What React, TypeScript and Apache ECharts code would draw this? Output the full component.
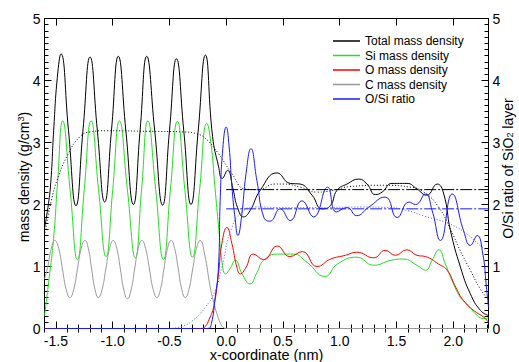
import React, { useEffect, useRef } from "react";
import * as echarts from "echarts";

const FONT = "'Liberation Sans', Arial, Helvetica, sans-serif";

// Axis tick positions (nm)
const majorX = [-1.5, -1.0, -0.5, 0.0, 0.5, 1.0, 1.5, 2.0];
const minorX: number[] = [];
for (let i = -16; i <= 23; i++) if (i % 5 !== 0) minorX.push(i / 10);

const xRange = [-1.6, 2.31];

// Series: [x (nm), value]
const totalDensity: [number, number][] = [
  [-1.6, 1.62], [-1.57, 1.95], [-1.545, 2.35], [-1.519, 3.2], [-1.487, 4.05], [-1.455, 4.43],
  [-1.389, 3.2], [-1.323, 1.98], [-1.261, 3.2], [-1.199, 4.38], [-1.135, 3.2], [-1.07, 2.04],
  [-1.01, 3.2], [-0.95, 4.39], [-0.884, 3.2], [-0.817, 2.0], [-0.758, 3.2], [-0.7, 4.39],
  [-0.63, 3.2], [-0.56, 1.99], [-0.499, 3.2], [-0.438, 4.35], [-0.374, 3.2], [-0.31, 2.0],
  [-0.246, 3.2], [-0.183, 4.41], [-0.12, 3.1], [-0.068, 2.62], [-0.035, 2.42], [0.012, 2.55],
  [0.06, 2.25], [0.1, 1.95], [0.153, 1.8], [0.21, 1.9], [0.3, 2.23], [0.447, 2.51],
  [0.564, 2.34], [0.65, 2.33], [0.756, 2.15], [0.844, 1.93], [0.917, 1.98], [0.976, 2.23],
  [1.064, 2.33], [1.167, 2.41], [1.24, 2.33], [1.314, 2.16], [1.373, 2.2], [1.46, 2.34],
  [1.593, 2.34], [1.68, 2.25], [1.765, 2.15], [1.858, 2.33], [1.916, 2.17], [1.975, 1.58],
  [2.063, 0.99], [2.15, 0.56], [2.24, 0.29], [2.31, 0.21],
];

const siDensity: [number, number][] = [
  [-1.6, 0.2], [-1.56, 0.8], [-1.52, 1.45], [-1.485, 2.35], [-1.44, 3.35], [-1.375, 2.24],
  [-1.31, 1.11], [-1.25, 2.24], [-1.19, 3.35], [-1.124, 2.24], [-1.058, 1.16], [-0.999, 2.24],
  [-0.94, 3.35], [-0.87, 2.24], [-0.8, 1.14], [-0.745, 2.24], [-0.69, 3.35], [-0.621, 2.24],
  [-0.553, 1.11], [-0.491, 2.24], [-0.43, 3.34], [-0.364, 2.24], [-0.297, 1.15], [-0.234, 2.24],
  [-0.17, 3.31], [-0.135, 3.0], [-0.1, 2.3], [-0.065, 1.6], [-0.035, 1.05], [-0.005, 0.88],
  [0.035, 0.97], [0.08, 1.1], [0.14, 0.88], [0.21, 0.72], [0.27, 0.9], [0.33, 1.1],
  [0.45, 1.2], [0.59, 1.2], [0.71, 1.07], [0.87, 0.84], [0.98, 1.04], [1.15, 1.15],
  [1.3, 1.02], [1.45, 1.1], [1.56, 1.12], [1.68, 1.02], [1.755, 0.94], [1.814, 1.1],
  [1.872, 1.27], [1.93, 1.04], [1.99, 0.77], [2.063, 0.5], [2.12, 0.4], [2.21, 0.21],
  [2.27, 0.16], [2.31, 0.17],
];

const oDensity: [number, number][] = [
  [-1.6, 0], [-0.3, 0], [-0.22, 0], [-0.185, 0.03], [-0.15, 0.15], [-0.11, 0.35],
  [-0.068, 0.88], [-0.038, 1.37], [0.006, 1.63], [0.05, 1.37], [0.094, 0.99], [0.125, 0.88],
  [0.17, 0.97], [0.24, 1.2], [0.33, 1.11], [0.45, 1.33], [0.56, 1.16], [0.67, 1.24],
  [0.8, 1.0], [0.92, 1.12], [1.05, 1.18], [1.15, 1.23], [1.3, 1.14], [1.4, 1.26],
  [1.49, 1.18], [1.59, 1.27], [1.68, 1.18], [1.755, 1.16], [1.87, 1.04], [1.946, 0.94],
  [2.02, 0.67], [2.09, 0.45], [2.18, 0.29], [2.27, 0.18], [2.31, 0.1],
];

const cDensity: [number, number][] = [
  [-1.6, 0.8], [-1.572, 0.99], [-1.54, 1.29], [-1.508, 1.42], [-1.475, 1.29], [-1.442, 0.96],
  [-1.409, 0.63], [-1.376, 0.5], [-1.343, 0.63], [-1.31, 0.96], [-1.277, 1.29], [-1.243, 1.42],
  [-1.214, 1.29], [-1.185, 0.96], [-1.155, 0.63], [-1.126, 0.5], [-1.093, 0.63], [-1.06, 0.96],
  [-1.027, 1.29], [-0.994, 1.42], [-0.963, 1.29], [-0.932, 0.96], [-0.901, 0.62], [-0.87, 0.48],
  [-0.838, 0.62], [-0.806, 0.96], [-0.775, 1.29], [-0.743, 1.42], [-0.71, 1.29], [-0.676, 0.96],
  [-0.643, 0.63], [-0.61, 0.5], [-0.579, 0.63], [-0.548, 0.96], [-0.517, 1.29], [-0.485, 1.42],
  [-0.454, 1.29], [-0.422, 0.96], [-0.391, 0.63], [-0.36, 0.5], [-0.328, 0.63], [-0.295, 0.96],
  [-0.262, 1.29], [-0.229, 1.42], [-0.19, 1.2], [-0.141, 0.67], [-0.11, 0.42], [-0.082, 0.24],
  [-0.05, 0.08], [-0.02, 0.01], [0.0, 0], [2.31, 0],
];

const oSiRatio: [number, number][] = [
  [-1.6, 0], [-0.3, 0], [-0.16, 0], [-0.13, 0.08], [-0.097, 0.5], [-0.068, 0.99],
  [-0.053, 2.06], [-0.03, 2.9], [0.0, 3.25], [0.025, 2.95], [0.05, 2.3], [0.08, 1.75],
  [0.103, 1.5], [0.135, 1.8], [0.175, 2.5], [0.218, 2.9], [0.27, 2.39], [0.33, 1.8],
  [0.385, 1.73], [0.476, 1.93], [0.564, 1.74], [0.667, 2.06], [0.77, 1.8], [0.893, 2.28],
  [0.97, 1.88], [1.064, 1.95], [1.15, 1.82], [1.25, 1.95], [1.4, 2.12], [1.505, 1.79],
  [1.61, 2.04], [1.667, 2.0], [1.755, 2.17], [1.814, 1.9], [1.887, 1.42], [1.99, 2.17],
  [2.09, 1.58], [2.15, 1.34], [2.21, 1.5], [2.26, 1.2], [2.29, 0.7], [2.31, 0.34],
];

const totalSmoothed: [number, number][] = [
  [-1.6, 1.5], [-1.57, 1.8], [-1.54, 2.06], [-1.49, 2.39], [-1.39, 2.82], [-1.29, 3.09],
  [-1.2, 3.17], [-1.05, 3.19], [-0.67, 3.18], [-0.36, 3.17], [-0.26, 3.14], [-0.185, 3.07],
  [-0.068, 2.82], [0.05, 2.5], [0.168, 2.25], [0.285, 2.24], [0.43, 2.33], [0.505, 2.33],
  [0.65, 2.28], [0.8, 2.2], [0.946, 2.23], [1.09, 2.29], [1.387, 2.31], [1.62, 2.28],
  [1.74, 2.2], [1.87, 1.96], [1.975, 1.6], [2.06, 1.26], [2.15, 0.94], [2.24, 0.63],
  [2.31, 0.47],
];

const ratioSmoothed: [number, number][] = [
  [-0.5, 0], [-0.4, 0.03], [-0.3, 0.12], [-0.185, 0.34], [-0.097, 0.61],
  [-0.038, 0.99], [0.05, 1.63], [0.153, 1.9], [0.256, 1.96], [0.5, 1.95], [0.8, 1.95],
  [1.2, 1.96], [1.45, 1.95], [1.6, 1.9], [1.75, 1.81], [1.95, 1.7], [2.1, 1.55],
  [2.24, 1.33], [2.31, 1.23],
];

const layerStart = 0.0;
const layerEnd = 2.31;
const totalLayerMean = 2.24;
const ratioLayerMean = 1.93;

const legendNames = [
  "Total mass density",
  "Si mass density",
  "O mass density",
  "C mass density",
  "O/Si ratio",
];

const COLORS = {
  total: "#000000",
  si: "#22e022",
  o: "#ff0000",
  c: "#999999",
  ratio: "#1a1aff",
  ratioDot: "#4a5cff",
};

function lineSeries(name: string, data: [number, number][], color: string, extra: any = {}) {
  return {
    type: "line",
    name,
    data,
    smooth: 0.5,
    symbol: "none",
    showSymbol: false,
    lineStyle: { color, width: 1 },
    itemStyle: { color },
    xAxisIndex: 0,
    yAxisIndex: 0,
    silent: true,
    ...extra,
  };
}

export default function App() {
  const ref = useRef<HTMLDivElement>(null);

  useEffect(() => {
    if (!ref.current) return;
    const chart = echarts.init(ref.current, null, { renderer: "svg" });

    const xBase: any = {
      type: "value",
      min: xRange[0],
      max: xRange[1],
      offset: 0,
      splitLine: { show: false },
      axisLine: { show: true, onZero: false, lineStyle: { color: "#000", width: 1 } },
    };
    const tickStyle = { color: "#000", width: 1 };

    const yBase: any = {
      type: "value",
      min: 0,
      max: 5,
      interval: 1,
      splitLine: { show: false },
      axisLine: { show: true, onZero: false, lineStyle: { color: "#000", width: 1 } },
      axisTick: { show: true, inside: true, length: 7, lineStyle: tickStyle },
      minorTick: { show: true, splitNumber: 10, length: 4, lineStyle: tickStyle },
      axisLabel: { show: true, fontSize: 14, color: "#000", fontFamily: FONT, margin: 4 },
      nameLocation: "middle",
      nameRotate: 90,
      nameMoveOverlap: false,
    };

    const rich = {
      sup: { fontSize: 9, color: "#000", fontFamily: FONT, verticalAlign: "top" },
      sub: { fontSize: 9, color: "#000", fontFamily: FONT, verticalAlign: "bottom" },
    };

    const option: any = {
      animation: false,
      backgroundColor: "#fff",
      grid: { left: 44.5, right: 30.5, top: 18.5, bottom: 33.5, outerBoundsMode: "none", containLabel: false },
      legend: {
        data: legendNames,
        orient: "vertical",
        left: 333,
        top: 35,
        padding: 0,
        icon: "rect",
        itemWidth: 27,
        itemHeight: 1.5,
        itemGap: 2.5,
        selectedMode: false,
        textStyle: { fontSize: 12, color: "#000", fontFamily: FONT },
      },
      xAxis: [
        {
          ...xBase,
          position: "bottom",
          axisTick: { show: true, inside: true, length: 7, customValues: majorX, lineStyle: tickStyle },
          axisLabel: {
            show: true,
            customValues: majorX,
            formatter: (v: number) => v.toFixed(1),
            fontSize: 14,
            lineHeight: 14,
            color: "#000",
            fontFamily: FONT,
            margin: 5,
          },
          name: "x-coordinate (nm)",
          nameLocation: "middle",
          nameGap: 19.5,
          nameMoveOverlap: false,
          nameTextStyle: { fontSize: 14.5, lineHeight: 14, color: "#000", fontFamily: FONT },
        },
        {
          ...xBase,
          position: "bottom",
          axisLine: { show: false },
          axisTick: { show: true, inside: true, length: 4, customValues: minorX, lineStyle: tickStyle },
          axisLabel: { show: false },
        },
        {
          ...xBase,
          position: "top",
          axisTick: { show: true, inside: true, length: 7, customValues: majorX, lineStyle: tickStyle },
          axisLabel: { show: false },
        },
        {
          ...xBase,
          position: "top",
          axisLine: { show: false },
          axisTick: { show: true, inside: true, length: 4, customValues: minorX, lineStyle: tickStyle },
          axisLabel: { show: false },
        },
      ],
      yAxis: [
        {
          ...yBase,
          position: "left",
          name: "mass density (g/cm{sup|3})",
          nameGap: 14,
          nameTextStyle: { fontSize: 14, color: "#000", fontFamily: FONT, rich, padding: [0, 7, 0, 0] },
        },
        {
          ...yBase,
          position: "right",
          name: "O/Si ratio of SiO{sub|2} layer",
          nameGap: 12,
          nameTextStyle: { fontSize: 14, color: "#000", fontFamily: FONT, rich, padding: [0, 0, 0, 10] },
        },
      ],
      series: [
        lineSeries("Total mass density", totalDensity, COLORS.total),
        lineSeries("Si mass density", siDensity, COLORS.si),
        lineSeries("O mass density", oDensity, COLORS.o),
        lineSeries("C mass density", cDensity, COLORS.c),
        lineSeries("Total (smoothed)", totalSmoothed, COLORS.total, {
          lineStyle: { color: COLORS.total, width: 1, type: [1, 2] },
        }),
        lineSeries("O/Si (smoothed)", ratioSmoothed, COLORS.ratioDot, {
          yAxisIndex: 1,
          lineStyle: { color: COLORS.ratioDot, width: 1, type: [1, 2] },
        }),
        lineSeries("O/Si ratio", oSiRatio, COLORS.ratio, { yAxisIndex: 1, z: 3 }),
        lineSeries("Total layer mean", [[layerStart, totalLayerMean], [layerEnd, totalLayerMean]], COLORS.total, {
          smooth: false,
          lineStyle: { color: COLORS.total, width: 1, type: [12, 2, 2, 2] },
        }),
        lineSeries("O/Si layer mean", [[layerStart, ratioLayerMean], [layerEnd, ratioLayerMean]], COLORS.ratio, {
          smooth: false,
          yAxisIndex: 1,
          lineStyle: { color: COLORS.ratio, width: 1, type: [12, 2, 2, 2] },
        }),
      ],
    };

    chart.setOption(option);
    return () => chart.dispose();
  }, []);

  return (
    <div
      ref={ref}
      style={{ position: "fixed", left: 0, top: 0, width: 519, height: 362, background: "#fff" }}
    />
  );
}
